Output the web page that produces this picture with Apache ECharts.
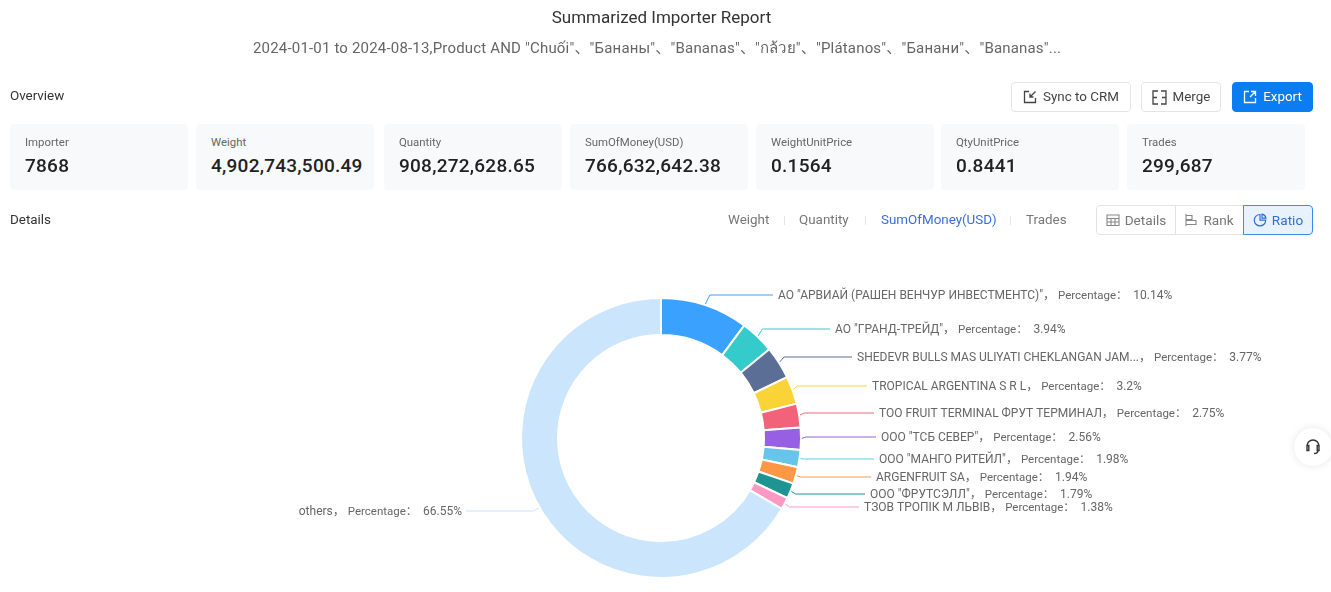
<!DOCTYPE html>
<html>
<head>
<meta charset="utf-8">
<title>Summarized Importer Report</title>
<script src="https://cdn.jsdelivr.net/npm/echarts@6/dist/echarts.min.js"></script>
<style>
html,body{margin:0;padding:0;width:1331px;height:592px;overflow:hidden;background:#fff;font-family:Roboto,"Noto Sans CJK SC",sans-serif;color:#333}
#main{position:absolute;left:0;top:0;width:1331px;height:592px}
.abs{position:absolute;white-space:nowrap}
.card{position:absolute;top:124px;height:66px;width:178px;background:#f8f9fb;border-radius:4px}
.card .k{position:absolute;left:15px;top:11px;font-size:11.4px;color:#666;line-height:14px}
.card .v{position:absolute;left:15px;top:31px;font-size:19px;color:#222;line-height:22px;letter-spacing:.25px;font-weight:500}
.btn{position:absolute;top:82px;height:30px;box-sizing:border-box;border:1px solid #e3e5e8;border-radius:4px;background:#fff;font-size:13.4px;color:#444;line-height:28px;display:flex;align-items:center;justify-content:center;gap:6px}
.btn.blue{background:#0a7df2;border-color:#0a7df2;color:#fff}
.tab{position:absolute;top:212px;font-size:13.4px;line-height:16px;color:#777}
.sep{position:absolute;top:216px;width:1px;height:9px;background:#e3e5e8}
.seg{position:absolute;top:205px;height:30px;box-sizing:border-box;border:1px solid #dfe2e6;font-size:13.6px;line-height:28px;color:#777;display:flex;align-items:center;justify-content:center;gap:5px}
svg{display:block}
</style>
</head>
<body>
<div id="main"></div>

<div class="abs" style="left:0;width:1323px;top:8px;text-align:center;font-size:17px;line-height:19px;color:#333">Summarized Importer Report</div>
<div class="abs" style="left:253px;top:39px;font-size:15px;letter-spacing:.18px;line-height:18px;color:#666" id="subtitle"></div>
<div class="abs" style="left:10px;top:88px;font-size:13.4px;line-height:16px;color:#333">Overview</div>
<div class="abs" style="left:10px;top:212px;font-size:13.4px;line-height:16px;color:#333">Details</div>

<div class="btn" style="left:1011px;width:120px">
<svg width="14" height="14" viewBox="0 0 14 14" fill="none" stroke="#444" stroke-width="1.3"><path d="M6 1.5H1.5v11h11V8M12.5 1.5 7 7M7 3.5V7h3.5"/></svg>Sync to CRM</div>
<div class="btn" style="left:1141px;width:80px">
<svg width="15" height="15" viewBox="0 0 15 15" fill="none" stroke="#444" stroke-width="1.3"><path d="M6 1H1v13h5M9 1h5v13H9M1 7.5h4M10 7.5h4"/></svg>Merge</div>
<div class="btn blue" style="left:1232px;width:81px">
<svg width="14" height="14" viewBox="0 0 14 14" fill="none" stroke="#fff" stroke-width="1.3"><path d="M6 1.5H1.5v11h11V8M8 1.5h4.5V6M12.5 1.5 7 7"/></svg>Export</div>

<div id="cards"></div>

<div class="tab" style="left:728px">Weight</div><div class="sep" style="left:784px"></div>
<div class="tab" style="left:799px">Quantity</div><div class="sep" style="left:865px"></div>
<div class="tab" style="left:881px;color:#3a6fd8">SumOfMoney(USD)</div><div class="sep" style="left:1010px"></div>
<div class="tab" style="left:1026px">Trades</div>

<div class="seg" style="left:1096px;width:80px;border-radius:4px 0 0 4px">
<svg width="14" height="14" viewBox="0 0 14 14" fill="none" stroke="#888" stroke-width="1.1"><path d="M1 2h12v10.5H1zM1 5.5h12M1 9h12M5 5.5v7M9 5.5v7"/></svg>Details</div>
<div class="seg" style="left:1175px;width:69px;border-left:0">
<svg width="14" height="14" viewBox="0 0 14 14" fill="none" stroke="#888" stroke-width="1.1"><path d="M2 1v12M2 2.5h6v4H2M2 7.5h10v4H2"/></svg>Rank</div>
<div class="seg" style="left:1243px;width:70px;border:1px solid #3a8ee6;background:#e8f2fd;color:#2f6fd6;border-radius:0 4px 4px 0">
<svg width="14" height="14" viewBox="0 0 14 14" fill="none" stroke="#2f6fd6" stroke-width="1.2"><path d="M7 1.5a5.7 5.7 0 1 0 5.7 5.7H7zM9 1.2a5 5 0 0 1 4 4H9z"/></svg>Ratio</div>

<div class="abs" style="left:1294px;top:428px;width:38px;height:38px;border-radius:50%;background:#fff;box-shadow:0 0 8px rgba(0,0,0,.1);display:flex;align-items:center;justify-content:center">
<svg width="18" height="18" viewBox="0 0 18 18" fill="none" stroke="#333" stroke-width="1.4"><path d="M3 10V8a6 6 0 0 1 12 0v2M3 7.5h1.8v5H3zM13.2 7.5H15v5h-1.8zM14 12.5c0 2-2 3-4 3"/></svg></div>

<script>
const subtitle = '2024-01-01 to 2024-08-13,Product AND "Chuối"、"Бананы"、"Bananas"、"กล้วย"、"Plátanos"、"Банани"、"Bananas"...';

const cardNames = ['Importer', 'Weight', 'Quantity', 'SumOfMoney(USD)', 'WeightUnitPrice', 'QtyUnitPrice', 'Trades'];
const cardValues = ['7868', '4,902,743,500.49', '908,272,628.65', '766,632,642.38', '0.1564', '0.8441', '299,687'];
const cardLeft = [10, 196, 384, 570, 756, 941, 1127];

const importers = [
    'АО "АРВИАЙ (РАШЕН ВЕНЧУР ИНВЕСТМЕНТС)"',
    'АО "ГРАНД-ТРЕЙД"',
    'SHEDEVR BULLS MAS ULIYATI CHEKLANGAN JAM...',
    'TROPICAL ARGENTINA S R L',
    'TOO FRUIT TERMINAL ФРУТ ТЕРМИНАЛ',
    'ООО "ТСБ СЕВЕР"',
    'ООО "МАНГО РИТЕЙЛ"',
    'ARGENFRUIT SA',
    'ООО "ФРУТСЭЛЛ"',
    'ТЗОВ ТРОПІК М ЛЬВІВ',
    'others'
];
const percentages = [10.14, 3.94, 3.77, 3.2, 2.75, 2.56, 1.98, 1.94, 1.79, 1.38, 66.55];
const colors = ['#3ba1ff', '#36cbcb', '#5b6e96', '#fad337', '#f2637b', '#975fe4', '#66c5e8', '#ff9845', '#1e9493', '#ff99c3', '#cbe5fd'];

// where each label sits on the page, the reference has them pushed apart by hand
const labelX = [778, 835, 857, 872, 879, 881, 879, 876, 870, 864, 462];
const labelY = [296, 330, 358, 387, 414, 438, 460, 478, 495, 508, 512];

document.getElementById('subtitle').textContent = subtitle;

let cardHtml = '';
cardNames.forEach(function (name, i) {
    cardHtml += '<div class="card" style="left:' + cardLeft[i] + 'px"><div class="k">' + name + '</div><div class="v">' + cardValues[i] + '</div></div>';
});
document.getElementById('cards').innerHTML = cardHtml;

let chart = echarts.init(document.getElementById('main'), null, {renderer: 'canvas'});
chart.setOption({
    animation: false,
    color: colors,
    series: [{
        type: 'pie',
        center: [661, 438],
        radius: [103, 140],
        startAngle: 90,
        clockwise: true,
        itemStyle: {borderColor: '#fff', borderWidth: 2},
        label: {
            show: true,
            formatter: '{n|{b}， }{p|Percentage：  }{n|{c}%}',
            fontFamily: 'Roboto, "Noto Sans CJK SC", sans-serif',
            color: '#666',
            rich: {
                n: {fontSize: 12, color: '#666'},
                p: {fontSize: 11.5, color: '#666'}
            }
        },
        labelLine: {show: true, length: 8, length2: 30, lineStyle: {width: 1}},
        labelLayout: function (params) {
            let i = params.dataIndex;
            let left = i === importers.length - 1;
            let p = params.labelLinePoints;
            let end = left ? labelX[i] + 4 : labelX[i] - 5;
            return {
                x: labelX[i],
                y: labelY[i],
                align: left ? 'right' : 'left',
                verticalAlign: 'middle',
                labelLinePoints: [p[0], [p[0][0] + (left ? -6 : 5), labelY[i] - 1], [end, labelY[i] - 1]]
            };
        },
        data: importers.map(function (name, i) {
            return {name: name, value: percentages[i]};
        })
    }]
});
</script>
</body>
</html>
